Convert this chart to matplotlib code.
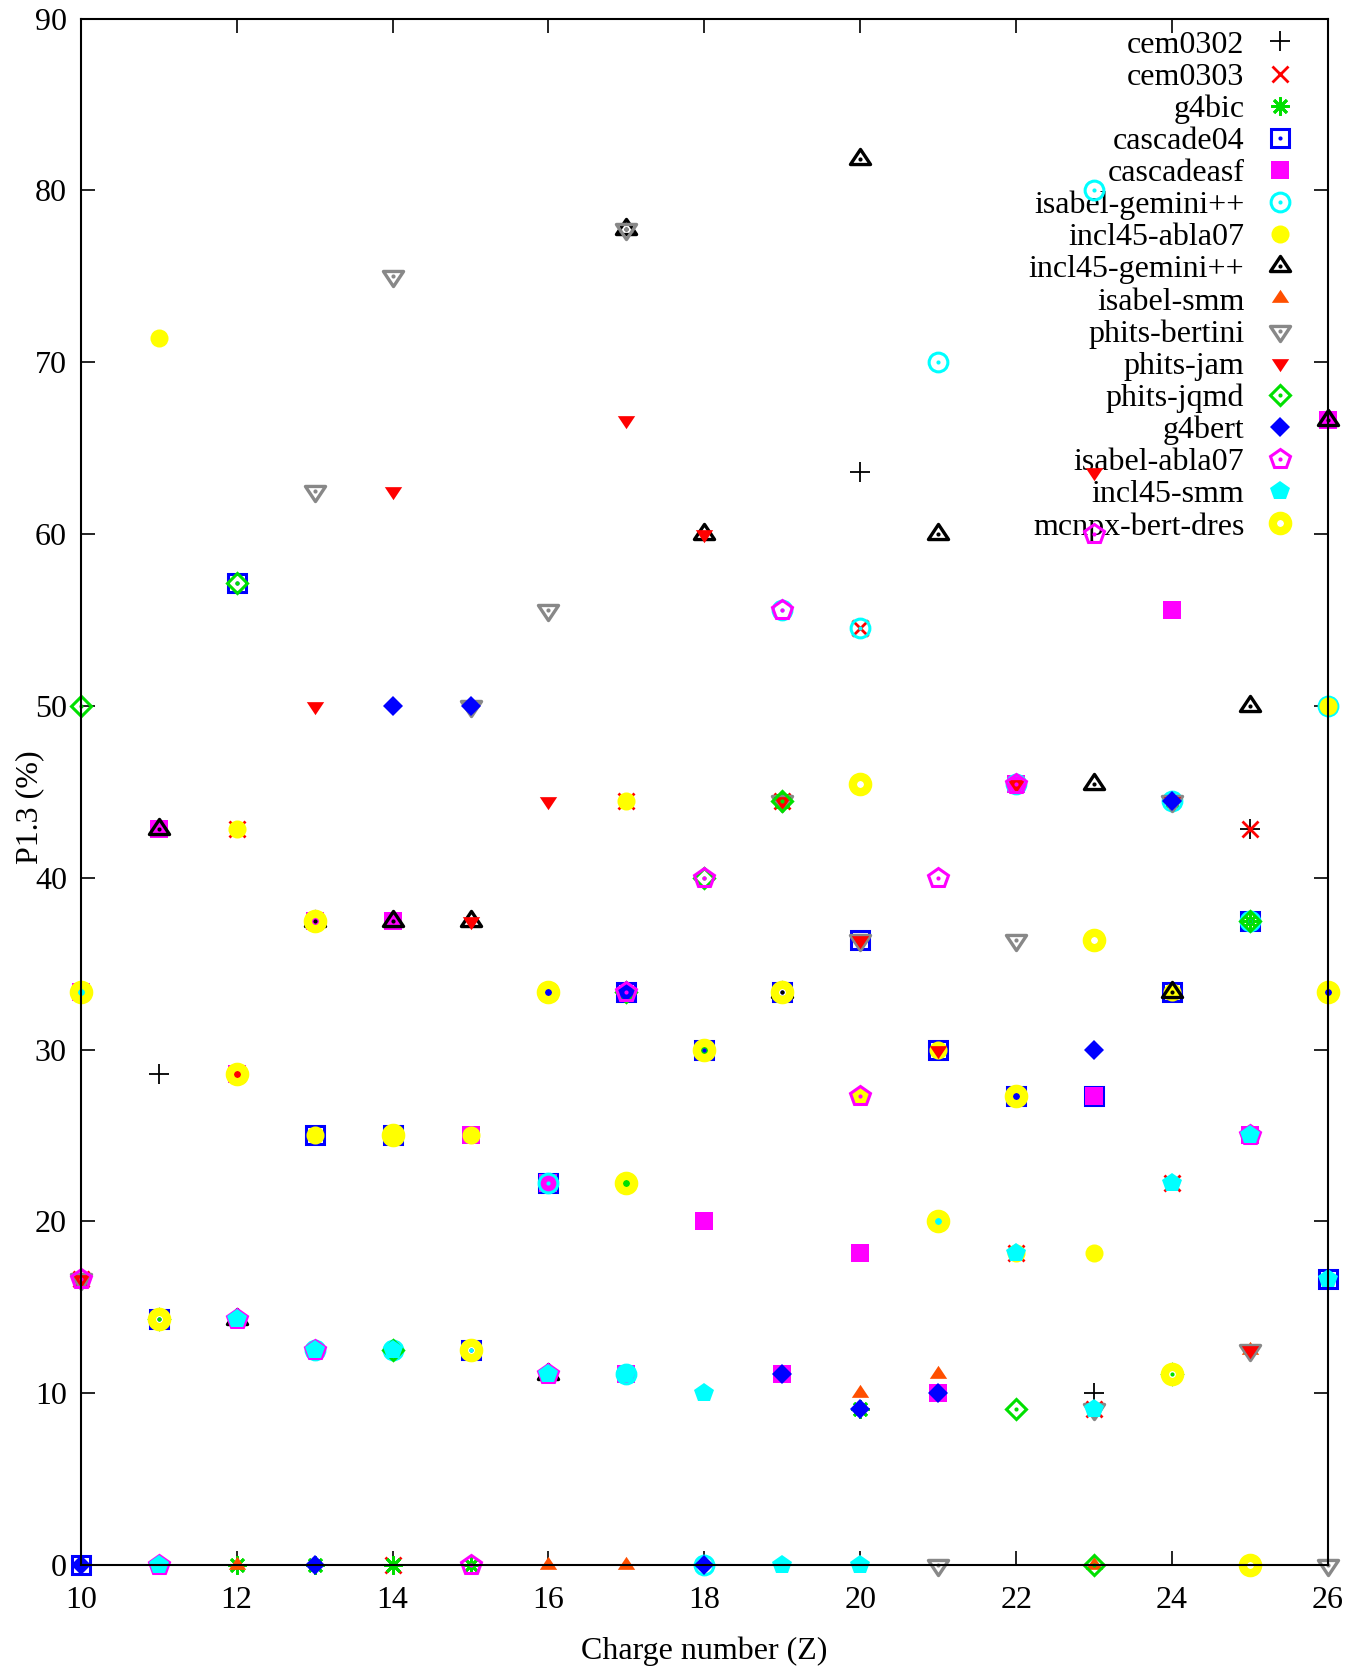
import numpy as np
import matplotlib
matplotlib.use("Agg")
import matplotlib.pyplot as plt
from matplotlib.path import Path

N = np.nan
Z = list(range(10, 27))

cem0302 = [N, 28.57, N, N, N, N, N, N, N, N, 63.64, N, N, 10.0, N, 42.86, N]
cem0303 = [16.67, N, 42.86, N, 0, N, 33.33, 44.44, N, 44.44, 54.55, N, 18.18, 9.09, 22.22, 42.86, N]
g4bic = [N, N, 0, 0, 0, 0, 11.11, 22.22, 30, 44.44, 9.09, N, N, N, 44.44, 37.5, N]
cascade04 = [0, 14.29, 57.14, 25, 25, 12.5, 22.22, 33.33, 30, 33.33, 36.36, 30, 27.27, 27.27, 33.33, 37.5, 16.67]
cascadeasf = [33.33, 42.86, 28.57, 37.5, 37.5, 25, 22.22, 11.11, 20, 11.11, 18.18, 10, 45.45, 27.27, 55.56, 25, 66.67]
isabel_gemini = [N, N, N, 12.5, 12.5, 12.5, 22.22, 11.11, 0, 55.56, 54.55, 70, 45.45, 80, 44.44, 37.5, 50]
incl45_abla07 = [N, 71.43, 42.86, 25, 25, 25, N, 44.44, N, N, 27.27, 30, 18.18, 18.18, 33.33, N, 50]
incl45_gemini = [N, 42.86, 14.29, 37.5, 37.5, 37.5, 11.11, 77.78, 60, 33.33, 81.82, 60, N, 45.45, 33.33, 50, 66.67]
isabel_smm = [N, N, 0, N, N, N, 0, 0, N, N, 10.0, 11.11, N, 0, N, 12.5, N]
phits_bertini = [16.67, N, N, 62.5, 75, 50, 55.56, 77.78, N, 44.44, 36.36, 0, 36.36, 9.09, 44.44, 12.5, 0]
phits_jam = [16.67, N, 28.57, 50, 62.5, 37.5, 44.44, 66.67, 60, 44.44, 36.36, 30, 45.45, 63.64, 44.44, 12.5, N]
phits_jqmd = [50, 14.29, 57.14, N, 12.5, N, N, 33.33, 40, 44.44, N, N, 9.09, 0, 11.11, 37.5, N]
g4bert = [0, N, N, 0, 50, 50, 33.33, 33.33, 0, 11.11, 9.09, 10, 27.27, 30, 44.44, N, 33.33]
isabel_abla07 = [16.67, 0, 14.29, 12.5, N, 0, 11.11, 33.33, 40, 55.56, 27.27, 40, 45.45, 60, N, 25, N]
incl45_smm = [33.33, 0, 14.29, 12.5, 12.5, N, 11.11, 11.11, 10, 0, 0, 20, 18.18, 9.09, 22.22, 25, 16.67]
mcnpx_bert_dres = [33.33, 14.29, 28.57, 37.5, 25, 12.5, 33.33, 22.22, 30, 33.33, 45.45, 20, 27.27, 36.36, 11.11, 0, 33.33]

labels = ["cem0302", "cem0303", "g4bic", "cascade04", "cascadeasf", "isabel-gemini++",
          "incl45-abla07", "incl45-gemini++", "isabel-smm", "phits-bertini", "phits-jam",
          "phits-jqmd", "g4bert", "isabel-abla07", "incl45-smm", "mcnpx-bert-dres"]
values = [cem0302, cem0303, g4bic, cascade04, cascadeasf, isabel_gemini, incl45_abla07,
          incl45_gemini, isabel_smm, phits_bertini, phits_jam, phits_jqmd, g4bert,
          isabel_abla07, incl45_smm, mcnpx_bert_dres]

# gnuplot-like flattened triangles
TRI_UP = Path([(-1, -0.5), (1, -0.5), (0, 1.0), (-1, -0.5)],
              [Path.MOVETO, Path.LINETO, Path.LINETO, Path.CLOSEPOLY])
TRI_DN = Path([(-1, 0.5), (1, 0.5), (0, -1.0), (-1, 0.5)],
              [Path.MOVETO, Path.LINETO, Path.LINETO, Path.CLOSEPOLY])

GREEN = "#00e000"
ORANGE = "#ff4f00"
styles = [
    dict(marker="+", color="black", ms=14, mew=1.3, open=False),
    dict(marker="x", color="#ff0000", ms=11, mew=2.0, open=False),
    dict(marker=(8, 2, 0), color=GREEN, ms=13, mew=2.0, open=False),
    dict(marker="s", color="#0000ff", ms=12.5, mew=2.2, open=True),
    dict(marker="s", color="#ff00ff", ms=12.5, mew=0, open=False),
    dict(marker="o", color="#00ffff", ms=13.5, mew=2.2, open=True),
    dict(marker="o", color="#ffff00", ms=13, mew=0, open=False),
    dict(marker=TRI_UP, color="black", ms=14.5, mew=2.4, open=True),
    dict(marker=TRI_UP, color=ORANGE, ms=12.5, mew=0, open=False),
    dict(marker=TRI_DN, color="#888888", ms=14.5, mew=2.4, open=True),
    dict(marker=TRI_DN, color="#ff0000", ms=12.5, mew=0, open=False),
    dict(marker="D", color=GREEN, ms=10.5, mew=2.2, open=True),
    dict(marker="D", color="#0000ff", ms=10.5, mew=0, open=False),
    dict(marker="p", color="#ff00ff", ms=15, mew=2.2, open=True),
    dict(marker="p", color="#00ffff", ms=15, mew=0, open=False),
    dict(marker="o", color="#ffff00", ms=11, mew=6, open="ring"),
]

plt.rcParams["font.family"] = ["Liberation Serif", "DejaVu Serif"]
fig = plt.figure(figsize=(13.69, 16.68), dpi=100)
ax = fig.add_axes([0.059, 0.0618, 0.911, 0.927])

handles = []
for lab, vals, st in zip(labels, values, styles):
    y = np.array(vals, dtype=float)
    c = st["color"]
    if st["open"]:
        (h,) = ax.plot(Z, y, linestyle="none", marker=st["marker"], ms=st["ms"],
                       mew=st["mew"], mec=c, mfc="none", clip_on=False)
        if st["open"] is True:
            (d,) = ax.plot(Z, y, linestyle="none", marker="o", ms=3, mew=0,
                           mfc=c, clip_on=False)
            handles.append((h, d))
        else:
            handles.append(h)
    else:
        if st["mew"] == 0:
            (h,) = ax.plot(Z, y, linestyle="none", marker=st["marker"], ms=st["ms"],
                           mew=0, mfc=c, clip_on=False)
        else:
            (h,) = ax.plot(Z, y, linestyle="none", marker=st["marker"], ms=st["ms"],
                           mew=st["mew"], mec=c, clip_on=False)
        handles.append(h)

ax.set_xlim(10, 26)
ax.set_ylim(0, 90)
ax.set_xticks(range(10, 27, 2))
ax.set_yticks(range(0, 91, 10))
ax.tick_params(direction="in", length=10, width=1.2, top=True, right=True, labelsize=23)
ax.tick_params(axis="x", pad=15)
ax.tick_params(axis="y", pad=10)
for s in ax.spines.values():
    s.set_linewidth(1.5)
ax.set_xlabel("Charge number (Z)", fontsize=23)
ax.set_ylabel("P1.3 (%)", fontsize=23, va="center")
ax.xaxis.set_label_coords(0.5, -0.046)
ax.yaxis.set_label_coords(-0.041, 0.49)

leg = ax.legend(handles, labels, loc="upper right", bbox_to_anchor=(0.974, 0.9925),
                markerfirst=False, frameon=False, fontsize=23, labelspacing=0.085,
                handlelength=1.0, handletextpad=0.6, borderaxespad=0, borderpad=0)
leg.set_zorder(1)

fig.savefig("out.png", dpi=100)
